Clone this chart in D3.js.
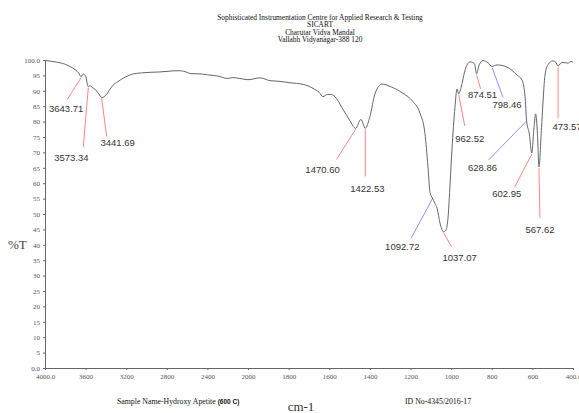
<!DOCTYPE html>
<html>
<head>
<meta charset="utf-8">
<script src="https://cdn.jsdelivr.net/npm/d3@7"></script>
<style>
  body { margin: 0; background: #fff; }
  svg { display: block; }
  .axis path, .axis line { stroke: #666; }
  .axis text { fill: #555; font-family: "Liberation Serif", serif; font-size: 7px; }
</style>
</head>
<body>
<div id="chart"></div>
<script>
// spectrum: [wavenumber cm-1, %T]
const spectrum = [
  [4000, 99.8], [3900, 99.4], [3800, 98.6], [3750, 97.8], [3700, 96.8], [3670, 95.8],
  [3643.71, 94.6], [3625, 95.4], [3600, 94.9], [3585, 92.5], [3573.34, 91.3], [3555, 91.7],
  [3540, 91.2], [3500, 90.3], [3470, 89.0], [3441.69, 87.8], [3400, 88.6], [3370, 90.0],
  [3330, 91.8], [3280, 93.0], [3230, 94.1], [3180, 94.9], [3130, 95.5], [3050, 95.8],
  [2966, 96.0], [2880, 96.1], [2798, 96.3], [2720, 96.5], [2670, 96.5], [2600, 96.0],
  [2571, 95.6], [2473, 95.5], [2400, 95.2], [2300, 94.8], [2200, 94.0], [2150, 94.3],
  [2080, 94.0], [2000, 93.6], [1941, 94.2], [1892, 93.3], [1850, 93.1], [1793, 92.6],
  [1729, 92.1], [1680, 90.8], [1650, 89.5], [1631, 88.1], [1610, 88.8], [1590, 88.8],
  [1572, 88.1], [1537, 84.5], [1500, 80.5], [1470.60, 77.8], [1444, 80.7], [1422.53, 77.8],
  [1400, 81.6], [1375, 89.0], [1340, 92.2], [1300, 91.4], [1237, 89.2], [1188, 86.5],
  [1153, 82.7], [1129, 76.2], [1114, 65.3], [1104, 57.0], [1092.72, 55.2], [1080, 53.5],
  [1069, 51.9], [1055, 47.1], [1037.07, 44.2], [1025, 44.8], [1015, 49.0], [1005, 60.0],
  [996, 70.8], [981, 84.7], [971, 90.6], [962.52, 89.0], [951, 91.0], [931, 96.8],
  [907, 99.4], [885, 98.8], [874.51, 95.5], [862, 98.4], [843, 99.8], [818, 99.1],
  [798.46, 97.9], [774, 98.4], [725, 97.7], [675, 95.1], [651, 93.5], [636, 88.1],
  [628.86, 80.5], [615, 76.0], [602.95, 69.8], [592, 78.0], [584, 82.5], [575, 76.0],
  [567.62, 65.3], [555, 78.0], [548, 86.0], [538, 95.0], [523, 98.5], [499, 99.7],
  [485, 99.3], [473.57, 98.0], [460, 99.0], [450, 99.2], [425, 99.0], [410, 99.5], [400, 99.3]
]

// labelled peaks and leader colour
const peaks = [3643.71, 3573.34, 3441.69, 1470.60, 1422.53, 1092.72, 1037.07,
               962.52, 874.51, 798.46, 628.86, 602.95, 567.62, 473.57]
const peakColors = ["red", "red", "red", "red", "red", "blue", "red",
                    "red", "red", "blue", "blue", "red", "red", "red"]

const xTicks = [4000, 3600, 3200, 2800, 2400, 2000, 1800, 1600, 1400, 1200, 1000, 800, 600, 400]
const yTicks = d3.range(0, 101, 5)

const titleLines = [
  "Sophisticated Instrumentation Centre for Applied Research & Testing",
  "SICART",
  "Charutar Vidya Mandal",
  "Vallabh Vidyanagar-388 120"
]

// label placement: leader end and text centre, offsets from the peak point
const labelLayout = [
  {ex: -14, ey: 23, tx: -15, ty: 32},
  {ex: -5, ey: 60, tx: -17, ty: 71},
  {ex: 5, ey: 39, tx: 16, ty: 45},
  {ex: -19, ey: 31, tx: -33, ty: 41},
  {ex: 0, ey: 48, tx: 2, ty: 60},
  {ex: -21, ey: 40, tx: -30, ty: 49},
  {ex: 8, ey: 15, tx: 16, ty: 26},
  {ex: 6, ey: 32, tx: 11, ty: 45},
  {ex: 4, ey: 15, tx: 6, ty: 21},
  {ex: 11, ey: 31, tx: 15, ty: 38},
  {ex: -38, ey: 40, tx: -44, ty: 48},
  {ex: -17, ey: 34, tx: -25, ty: 41},
  {ex: 1, ey: 51, tx: 1, ty: 63},
  {ex: 0, ey: 52, tx: 9, ty: 61}
]

const width = 579, height = 413
const svg = d3.select("#chart").append("svg")
    .attr("width", width)
    .attr("height", height)

// the instrument expands the scale below 2000 cm-1
const x = d3.scaleLinear()
    .domain([4000, 2000, 400])
    .range([45, 248, 573])
const y = d3.scaleLinear()
    .domain([0, 100])
    .range([368, 60])

// title block
svg.append("g")
  .selectAll("text")
  .data(titleLines)
  .join("text")
    .attr("x", 320)
    .attr("y", (d, i) => 20 + i * 7.4)
    .attr("text-anchor", "middle")
    .style("font-family", "Liberation Serif, serif")
    .style("font-size", "7.4px")
    .style("fill", "#111")
    .text(d => d)

// axes
svg.append("g")
    .attr("class", "axis")
    .attr("transform", `translate(0,${y(0)})`)
    .call(d3.axisBottom(x).tickValues(xTicks).tickSize(2).tickSizeOuter(0).tickPadding(4)
      .tickFormat(d => (d == 4000 || d == 400) ? d3.format(".1f")(d) : d))

svg.append("g")
    .attr("class", "axis")
    .attr("transform", `translate(${x(4000)},0)`)
    .call(d3.axisLeft(y).tickValues(yTicks).tickSize(2).tickSizeOuter(0).tickPadding(3)
      .tickFormat(d => (d == 0 || d == 100) ? d3.format(".1f")(d) : d))

// spectrum line
const line = d3.line()
    .x(d => x(d[0]))
    .y(d => y(d[1]))
    .curve(d3.curveMonotoneX)

svg.append("path")
    .datum(spectrum)
    .attr("fill", "none")
    .attr("stroke", "#666")
    .attr("stroke-width", 1)
    .attr("d", line)

// peak annotations
const tOf = w => spectrum.find(d => d[0] === w)[1]
const leaderColor = {red: "#ff8484", blue: "#8f8fff"}

const ann = svg.append("g")
  .selectAll("g")
  .data(peaks)
  .join("g")
    .attr("transform", d => `translate(${x(d)},${y(tOf(d))})`)

ann.append("line")
    .attr("x1", 0).attr("y1", 1)
    .attr("x2", (d, i) => labelLayout[i].ex)
    .attr("y2", (d, i) => labelLayout[i].ey)
    .attr("stroke", (d, i) => leaderColor[peakColors[i]])
    .attr("stroke-width", 1)

ann.append("text")
    .attr("x", (d, i) => labelLayout[i].tx)
    .attr("y", (d, i) => labelLayout[i].ty)
    .attr("dy", "0.35em")
    .attr("text-anchor", "middle")
    .style("font-family", "Liberation Sans, sans-serif")
    .style("font-size", "9.5px")
    .style("fill", "#333")
    .text(d => d3.format(".2f")(d))

// axis titles and footer
svg.append("text")
    .attr("x", 8).attr("y", 249)
    .style("font-family", "Liberation Serif, serif")
    .style("font-size", "13px")
    .style("fill", "#444")
    .text("%T")

svg.append("text")
    .attr("x", 301).attr("y", 411)
    .attr("text-anchor", "middle")
    .style("font-family", "Liberation Serif, serif")
    .style("font-size", "13px")
    .style("fill", "#333")
    .text("cm-1")

const sample = svg.append("text")
    .attr("x", 117).attr("y", 404)
    .style("font-family", "Liberation Serif, serif")
    .style("font-size", "7.8px")
    .style("fill", "#111")
sample.append("tspan").text("Sample Name-Hydroxy Apetite ")
sample.append("tspan")
    .style("font-family", "Liberation Sans, sans-serif")
    .style("font-size", "6.5px")
    .style("font-weight", "bold")
    .text("(600 C)")

svg.append("text")
    .attr("x", 405).attr("y", 404)
    .style("font-family", "Liberation Serif, serif")
    .style("font-size", "7.8px")
    .style("fill", "#111")
    .text("ID No-4345/2016-17")
</script>
</body>
</html>
